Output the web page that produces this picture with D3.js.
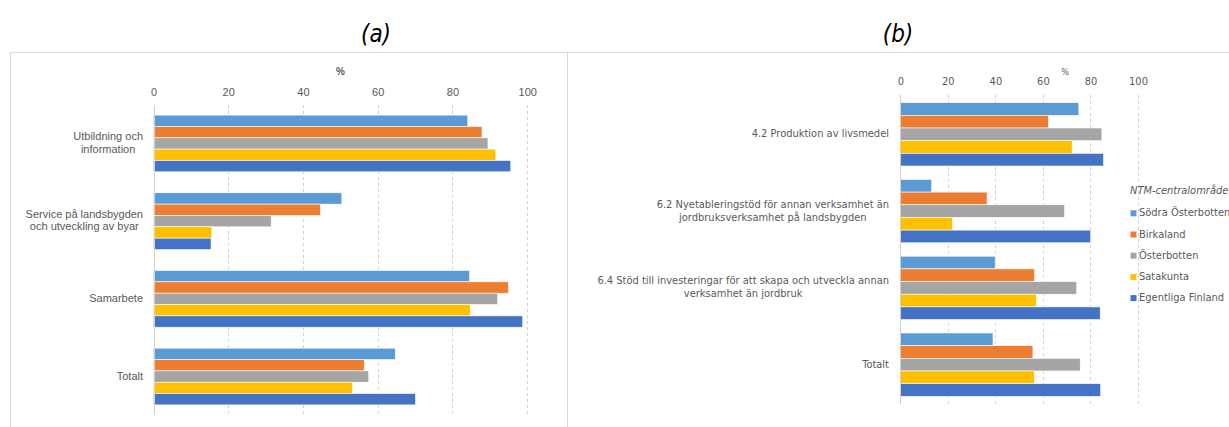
<!DOCTYPE html>
<html><head><meta charset="utf-8">
<script src="https://cdn.jsdelivr.net/npm/d3@7"></script>
<style>
body{margin:0;background:#fff;}
svg{display:block;}
</style></head>
<body>
<svg id="c" width="1229" height="427"></svg>
<script>
const seriesNames = ["Södra Österbotten","Birkaland","Österbotten","Satakunta","Egentliga Finland"];
const colors = ["#5B9BD5","#ED7D31","#A5A5A5","#FFC000","#4472C4"];
const ticks = [0,20,40,60,80,100];

const catsA = ["Utbildning och\ninformation","Service på landsbygden\noch utveckling av byar","Samarbete","Totalt"];
const sodraA = [84.1, 50.4, 84.6, 64.7];
const birkaA = [87.9, 44.7, 95.0, 56.4];
const osterA = [89.5, 31.5, 92.1, 57.6];
const sataA  = [91.6, 15.6, 84.8, 53.3];
const egentA = [95.6, 15.4, 98.8, 70.1];

const catsB = ["4.2 Produktion av livsmedel","6.2 Nyetableringstöd för annan verksamhet än\njordbruksverksamhet på landsbygden","6.4 Stöd till investeringar för att skapa och utveckla annan\nverksamhet än jordbruk","Totalt"];
const sodraB = [75.1, 13.2, 39.9, 39.0];
const birkaB = [62.3, 36.5, 56.5, 55.8];
const osterB = [84.8, 69.1, 74.2, 75.7];
const sataB  = [72.3, 22.0, 57.2, 56.4];
const egentB = [85.5, 80.1, 84.1, 84.3];

const svg = d3.select("#c");
const grey = "#595959";

// frames
svg.append("line").attr("x1",10).attr("x2",1229).attr("y1",52.5).attr("y2",52.5).attr("stroke","#d9d9d9");
svg.append("line").attr("x1",10.5).attr("x2",10.5).attr("y1",52).attr("y2",427).attr("stroke","#d9d9d9");
svg.append("line").attr("x1",567.5).attr("x2",567.5).attr("y1",52).attr("y2",427).attr("stroke","#d9d9d9");

// titles
const titleFont = "'Liberation Sans Narrow','DejaVu Sans Condensed',sans-serif";
svg.append("text").attr("x",376).attr("y",42).attr("text-anchor","middle")
  .style("font-family",titleFont).style("font-style","italic").style("font-size","24px").text("(a)");
svg.append("text").attr("x",898).attr("y",42).attr("text-anchor","middle")
  .style("font-family",titleFont).style("font-style","italic").style("font-size","24px").text("(b)");

function panel(cfg){
  const g = svg.append("g");
  const x = d3.scaleLinear().domain([0,100]).range([cfg.x0, cfg.x1]);
  const y = d3.scaleBand().domain(cfg.cats).range([cfg.yTop, cfg.yBot]).paddingInner(cfg.pi).paddingOuter(cfg.po);
  const ys = d3.scaleBand().domain(d3.range(5)).range([0, y.bandwidth()]);
  // gridlines
  g.selectAll(".grid").data(ticks.slice(1)).join("line")
    .attr("x1",d=>Math.round(x(d))+0.5).attr("x2",d=>Math.round(x(d))+0.5)
    .attr("y1",cfg.yTop).attr("y2",cfg.yBot)
    .attr("stroke","#d0d0d0").attr("stroke-dasharray","3,3");
  // axis
  const ax = g.append("g").attr("transform",`translate(0,${cfg.tickY})`)
    .call(d3.axisTop(x).tickValues(ticks).tickSize(0).tickPadding(0));
  ax.select(".domain").remove();
  ax.selectAll("text").attr("fill",grey).style("font-family",cfg.font).style("font-size",cfg.tickSize);
  g.append("text").attr("x",cfg.pctX).attr("y",cfg.pctY).attr("text-anchor","middle")
    .attr("fill",grey).style("font-family",cfg.font).style("font-size",cfg.pctSize)
    .style("font-weight",cfg.pctBold?"bold":"normal").text("%");
  // bars
  cfg.series.forEach((vals,si)=>{
    g.selectAll(".b"+si).data(cfg.cats).join("rect")
      .attr("x",x(0)).attr("y",(d)=>y(d)+ys(si))
      .attr("width",(d,i)=>x(vals[i])-x(0)).attr("height",ys.bandwidth())
      .attr("fill",colors[si]).attr("stroke","#ffffff").attr("stroke-width",0.6);
  });
  // zero line
  g.append("line").attr("x1",Math.round(x(0))+0.5).attr("x2",Math.round(x(0))+0.5)
    .attr("y1",cfg.yTop).attr("y2",cfg.yBot).attr("stroke","#d0d0d0");
  // category labels
  cfg.cats.forEach(c=>{
    const lines = c.split("\n");
    const t = g.append("text").attr("fill",grey).style("font-family",cfg.font).style("font-size",cfg.labSize)
      .attr("text-anchor","middle").attr("dominant-baseline","middle");
    const cy = y(c)+y.bandwidth()/2;
    const n = lines.length;
    const ts = lines.map((l,i)=>t.append("tspan").attr("y",cy+(i-(n-1)/2)*cfg.lineH).text(l));
    const w = d3.max(ts,s=>s.node().getComputedTextLength());
    ts.forEach(s=>s.attr("x",cfg.labRight - w/2));
  });
  return g;
}

panel({
  cats:catsA, series:[sodraA,birkaA,osterA,sataA,egentA],
  x0:153.5, x1:527.2, yTop:105, yBot:415, pi:0.27, po:0.13,
  tickY:96, font:"'Liberation Sans',Arial,sans-serif", tickSize:"11px",
  pctX:340.5, pctY:75, pctSize:"10px", pctBold:true,
  labRight:143, labSize:"11px", lineH:12.5
});

const narrow = "'Liberation Sans Narrow','DejaVu Sans Condensed',sans-serif";
panel({
  cats:catsB, series:[sodraB,birkaB,osterB,sataB,egentB],
  x0:900.3, x1:1138, yTop:95, yBot:404, pi:0.175, po:0.1,
  tickY:85, font:narrow, tickSize:"11px",
  pctX:1065, pctY:75, pctSize:"9px", pctBold:false,
  labRight:889, labSize:"11px", lineH:13
});

// legend
const lg = svg.append("g");
lg.append("text").attr("x",1130).attr("y",194).attr("fill",grey)
  .style("font-family",narrow).style("font-style","italic").style("font-size","11px").text("NTM-centralområde");
seriesNames.forEach((n,i)=>{
  const cy = 213.3 + i*21.2;
  lg.append("rect").attr("x",1130.5).attr("y",cy-3).attr("width",6).attr("height",6).attr("fill",colors[i]);
  lg.append("text").attr("x",1139).attr("y",cy).attr("dominant-baseline","middle").attr("fill",grey)
    .style("font-family",narrow).style("font-size","11px").text(n);
});
</script>
</body></html>
